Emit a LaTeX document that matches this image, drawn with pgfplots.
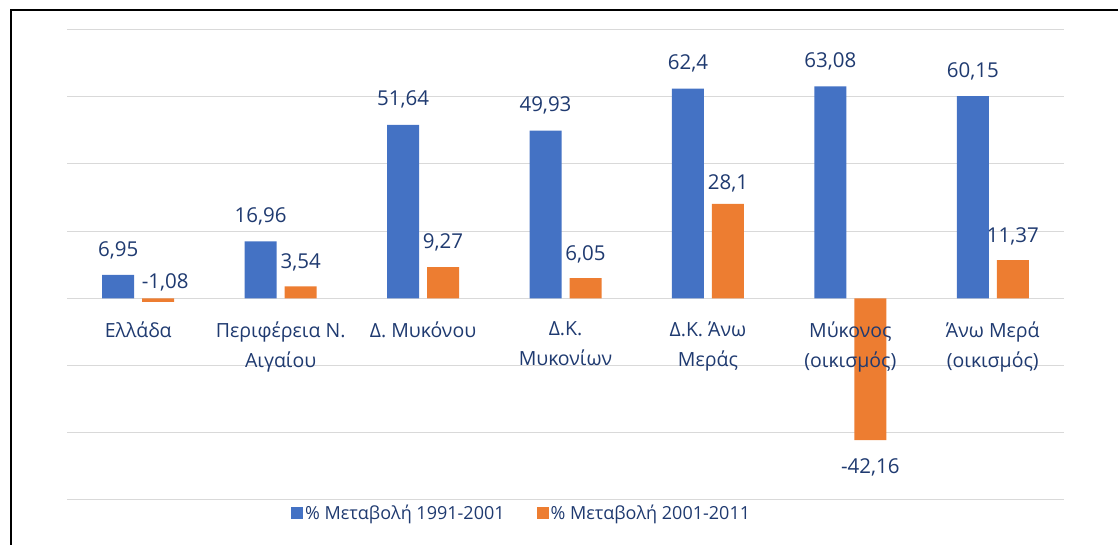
\documentclass[border=0pt]{standalone}
\usepackage{fontspec}
\setmainfont{Open Sans}
\usepackage{pgfplots}
\usepackage{pgfplotstable}
\pgfplotsset{compat=1.18}
\definecolor{cblue}{HTML}{4472C4}
\definecolor{corange}{HTML}{ED7D31}
\definecolor{ctext}{HTML}{1F3A70}
\definecolor{cgrid}{HTML}{D9D9D9}

\pgfplotstableread{
x y off xoff lbl
0 6.95 25 0 6,95
1 16.96 25 0 16,96
2 51.64 25 0 51,64
3 49.93 25 0 49,93
4 62.4 25 0 62,4
5 63.08 25 0 63,08
6 60.15 25 0 60,15
}\seriesA
\pgfplotstableread{
x y off xoff lbl
0 -1.08 20 7 -1,08
1 3.54 24 0 3,54
2 9.27 25 0 9,27
3 6.05 24 0 6,05
4 28.1 21 0 28,1
5 -42.16 -27 0 -42,16
6 11.37 24 0 11,37
}\seriesB

\begin{document}
\begin{tikzpicture}[x=1pt,y=1pt]
\begin{axis}[
  set layers,
  at={(67pt,45pt)}, anchor=south west,
  scale only axis, width=997pt, height=470.5pt,
  xmin=-0.5, xmax=6.5, ymin=-60, ymax=80,
  axis line style={draw=none},
  ytick={-60,-40,-20,0,20,40,60,80}, yticklabels={},
  ymajorgrids, grid style={draw=cgrid, line width=1pt},
  xtick={0,1,2,3,4,5,6},
  xticklabels={Ελλάδα, {Περιφέρεια Ν.\\Αιγαίου}, Δ. Μυκόνου, {Δ.Κ.\\Μυκονίων}, {Δ.Κ. Άνω\\Μεράς}, {Μύκονος\\(οικισμός)}, {Άνω Μερά\\(οικισμός)}},
  xticklabel style={align=center, font=\fontsize{19.5}{30}\selectfont, text=ctext, anchor=north, yshift=182pt, /pgfplots/on layer=axis foreground},
  major tick length=0pt, tick style={draw=none},
  ybar=8pt, bar width=32pt,
  point meta=explicit symbolic,
  nodes near coords,
  visualization depends on={\thisrow{off} \as \myoff},
  visualization depends on={\thisrow{xoff} \as \myxoff},
  every node near coord/.append style={anchor=center, yshift=\myoff pt, xshift=\myxoff pt, font=\fontsize{20.5}{24}\selectfont, text=ctext},
  legend style={at={(axis description cs:0.456,-0.0276)}, anchor=center, draw=none, fill=none,
    legend columns=2, font=\fontsize{18}{22}\selectfont, text=ctext,
    /tikz/every even column/.append style={column sep=30pt}},
  legend image code/.code={\fill[#1] (0pt,-6pt) rectangle (12pt,6pt);},
  clip=false,
]
\addplot[fill=cblue, draw=none] table[x=x, y=y, meta=lbl] {\seriesA};
\addlegendentry{\% Μεταβολή 1991-2001}
\addplot[fill=corange, draw=none] table[x=x, y=y, meta=lbl] {\seriesB};
\addlegendentry{\% Μεταβολή 2001-2011}
\end{axis}
\draw[line width=2pt, black] (11pt,0pt) -- (11pt,535pt) -- (1118pt,535pt);
\pgfresetboundingbox
\path (0pt,0pt) rectangle (1118pt,545pt);
\end{tikzpicture}
\end{document}
